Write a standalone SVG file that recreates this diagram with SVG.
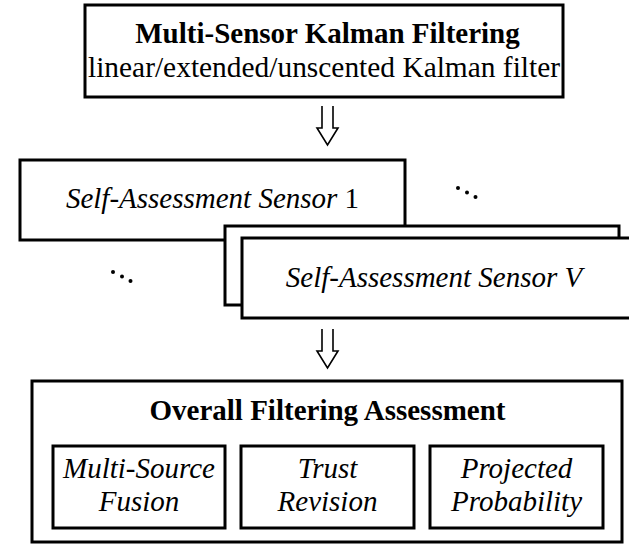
<svg xmlns="http://www.w3.org/2000/svg" width="629" height="545" viewBox="0 0 629 545">
  <style>
    .box { fill: #fff; stroke: #000; stroke-width: 3; }
    .inner { fill: #fff; stroke: #000; stroke-width: 3; }
    .arrow { fill: none; stroke: #000; stroke-width: 1.6; stroke-linejoin: miter; }
    text { font-family: "Liberation Serif", "Times New Roman", serif; font-size: 29px; fill: #000; }
    .b { font-weight: bold; }
    .it { font-style: italic; }
    .c { text-anchor: middle; }
  </style>
  <defs>
    <path id="dbl-arrow" d="M0,0 V22 H-5 L5.5,39 L16,22 H11 V0"/>
  </defs>

  <!-- top stage -->
  <g id="kalman">
    <rect class="box" x="85" y="5" width="478" height="92"/>
    <text class="b c" x="327.5" y="43">Multi-Sensor Kalman Filtering</text>
    <text x="88" y="77" textLength="472" lengthAdjust="spacingAndGlyphs">linear/extended/unscented Kalman filter</text>
  </g>

  <!-- per-sensor self-assessment -->
  <g id="sensor-1">
    <rect class="box" x="20" y="160" width="385" height="80"/>
    <text class="c" x="212.5" y="208"><tspan class="it">Self-Assessment Sensor</tspan> 1</text>
  </g>
  <g id="sensor-back">
    <rect class="box" x="225" y="226" width="394" height="79"/>
  </g>
  <g id="sensor-V">
    <rect class="box" x="242" y="238" width="400" height="80"/>
    <text class="it c" x="434" y="287">Self-Assessment Sensor V</text>
  </g>

  <!-- ellipsis marks -->
  <g id="dots-right">
    <circle cx="458" cy="188" r="2"/>
    <circle cx="467" cy="192.5" r="2"/>
    <circle cx="475.5" cy="197" r="2"/>
  </g>
  <g id="dots-left">
    <circle cx="113" cy="272" r="2"/>
    <circle cx="122" cy="276.5" r="2"/>
    <circle cx="130.5" cy="281" r="2"/>
  </g>

  <!-- overall assessment -->
  <g id="overall">
    <rect class="box" x="32" y="381" width="590" height="161"/>
    <text class="b c" x="327.5" y="420">Overall Filtering Assessment</text>
  </g>
  <g id="fusion">
    <rect class="inner" x="53" y="446" width="172" height="82"/>
    <text class="it c" x="139" y="478">Multi-Source</text>
    <text class="it c" x="139" y="511">Fusion</text>
  </g>
  <g id="trust">
    <rect class="inner" x="241" y="446" width="173" height="82"/>
    <text class="it c" x="327.5" y="478">Trust</text>
    <text class="it c" x="327.5" y="511">Revision</text>
  </g>
  <g id="projected">
    <rect class="inner" x="430" y="446" width="173" height="82"/>
    <text class="it c" x="516.5" y="478">Projected</text>
    <text class="it c" x="516.5" y="511">Probability</text>
  </g>

  <!-- connectors -->
  <g id="connectors">
    <use href="#dbl-arrow" class="arrow" x="322" y="106"/>
    <use href="#dbl-arrow" class="arrow" x="322" y="329"/>
  </g>
</svg>
